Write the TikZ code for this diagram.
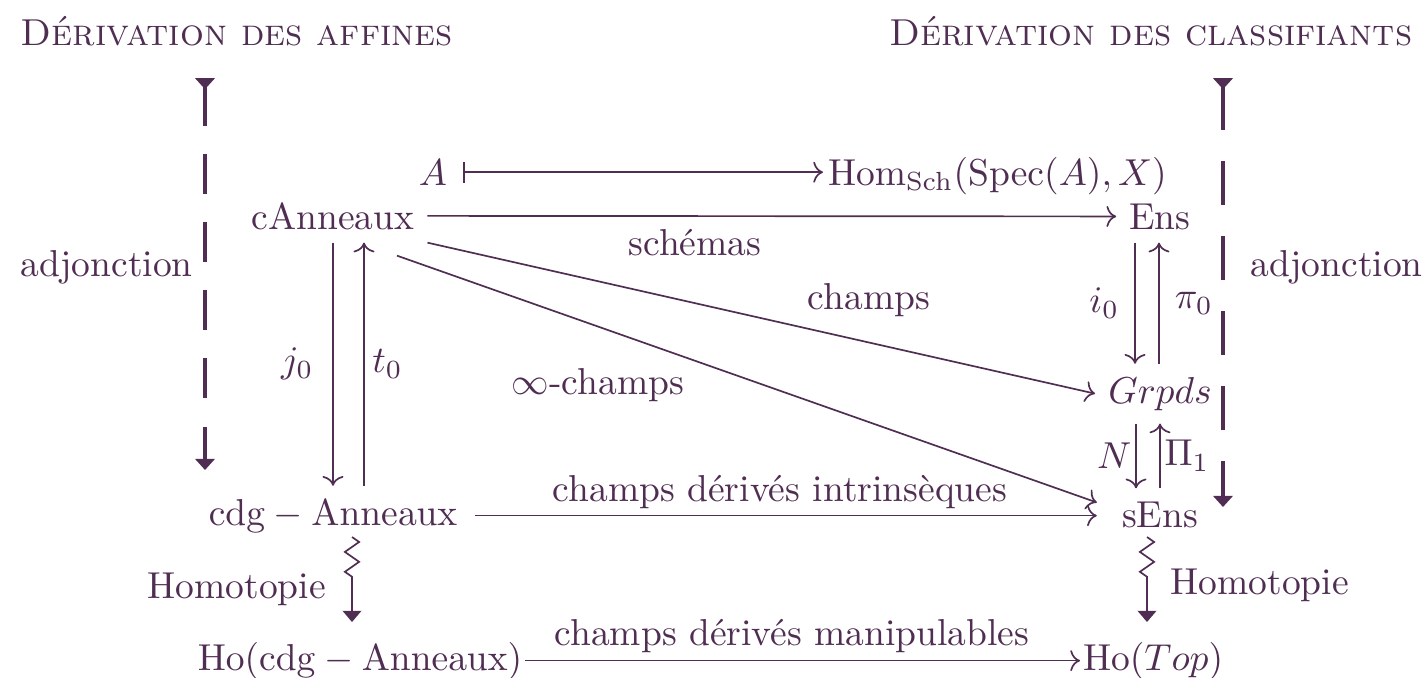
\documentclass[tikz,border=0pt]{standalone}
\usetikzlibrary{arrows.meta,decorations.pathmorphing,calc}
\definecolor{plum}{RGB}{80,45,82}
\begin{document}
\begin{tikzpicture}[x=0.2667pt,y=-0.2667pt,
  every node/.style={text=plum},
  obj/.style={inner sep=3.33pt},
  tight/.style={inner sep=0.6pt},
  lab/.style={inner sep=0pt},
  arr/.style={draw=plum, line width=0.45pt, -{To[length=2.6pt,width=5.6pt]}},
  mapsarr/.style={draw=plum, line width=0.45pt, {Bar[width=5.6pt]}-{To[length=2.6pt,width=5.6pt]}},
  adjarr/.style={draw=plum, line width=0.85pt, {Triangle[reversed,length=3pt,width=5.2pt]}-{Triangle[length=3pt,width=5.2pt]}},
  squig/.style={draw=plum, line width=0.45pt, -{Triangle[length=3pt,width=5pt]}, decorate,
    decoration={zigzag, amplitude=1.9pt, segment length=5.3pt, pre length=0pt, post length=12pt}}
]
\useasboundingbox (0,0) rectangle (1427,677);

% titles
\node[lab, anchor=base west] (tl) at (20,45) {\textsc{Dérivation des affines}};
\node[lab, anchor=base east] (tr) at (1413,45) {\textsc{Dérivation des classifiants}};

% objects
\node[obj, anchor=base] (A) at (433,185) {$A$};
\node[tight, anchor=base west] (hom) at (825,185) {$\mathrm{Hom}_{\mathrm{Sch}}(\mathrm{Spec}(A),X)$};
\node[obj, anchor=base] (can) at (333,229) {cAnneaux};
\node[obj, anchor=base] (ens) at (1160,229) {Ens};
\node[obj, anchor=base] (grp) at (1160,403) {$Grpds$};
\node[obj, anchor=base] (sens) at (1160,527) {sEns};
\node[obj, anchor=base] (cdg) at (333,525) {$\mathrm{cdg}-\mathrm{Anneaux}$};
\node[tight, anchor=base] (hocdg) at (360,670) {$\mathrm{Ho}(\mathrm{cdg}-\mathrm{Anneaux})$};
\node[tight, anchor=base west] (hotop) at (1080,670) {$\mathrm{Ho}(Top)$};

% side labels
\node[lab, anchor=base west] (adjl) at (20,276) {adjonction};
\node[lab, anchor=base west] (adjr) at (1250,276) {adjonction};
\node[lab, anchor=base west] (homl) at (147,598) {Homotopie};
\node[lab, anchor=base west] (homr) at (1170,594) {Homotopie};

% arrows
\draw[mapsarr] ($(A.east)+(3,0)$) -- ($(A.east -| hom.west)+(-2,0)$);
\draw[arr] (can) -- (ens);
\node[lab] (lsch) at (695,243) {schémas};
\draw[arr] (can.south east) -- (grp.west);
\node[lab] (lch) at (869,300) {champs};
\draw[arr] ($(can.south)+(64,13)$) -- ($(sens.west)+(-12,-12)$);
\node[lab] (linf) at (598,385) {$\infty$-champs};
\draw[arr] ($(cdg.east)+(5,0)$) -- ($(cdg.east -| sens.west)+(-12,0)$);
\node[lab] (lint) at (780,492) {champs dérivés intrinsèques};
\draw[arr] (hocdg.east) -- (hocdg.east -| hotop.west);
\node[lab] (lman) at (792,636) {champs dérivés manipulables};

% vertical pairs
\draw[arr] ([xshift=-25*0.2667pt]ens.south) -- ([xshift=-25*0.2667pt]ens.south |- grp.north)
  node[lab, midway, left=4pt] {$i_0$};
\draw[arr] ([xshift=-1*0.2667pt]ens.south |- grp.north) -- ([xshift=-1*0.2667pt]ens.south)
  node[lab, midway, right=4pt] {$\pi_0$};
\draw[arr] ([xshift=-24*0.2667pt]grp.south) -- ([xshift=-24*0.2667pt]grp.south |- sens.north)
  node[lab, midway, left=1pt] {$N$};
\draw[arr] ([xshift=0pt]grp.south |- sens.north) -- ([xshift=0pt]grp.south)
  node[lab, midway, right=1pt] {$\Pi_1$};
\draw[arr] (can.south) -- (can.south |- cdg.north)
  node[lab, midway, left=5pt] {$j_0$};
\draw[arr] ([xshift=31*0.2667pt]can.south |- cdg.north) -- ([xshift=31*0.2667pt]can.south)
  node[lab, midway, right=2pt] {$t_0$};

% squiggly
\coordinate (sql1) at (352,537);
\coordinate (sql2) at (352,622);
\coordinate (sqr1) at (1147,537);
\coordinate (sqr2) at (1147,622);
\draw[squig] (sql1) -- (sql2);
\draw[squig] (sqr1) -- (sqr2);

% adjunction dashed arrows
\coordinate (dl1) at (205,78);
\coordinate (dl2) at (205,470);
\coordinate (dr1) at (1223,78);
\coordinate (dr2) at (1223,507);
\draw[adjarr, dash pattern=on 10.67pt off 7.47pt] (dl1) -- (dl2);
\draw[adjarr, dash pattern=on 11.73pt off 8.27pt] (dr1) -- (dr2);
\end{tikzpicture}
\end{document}
